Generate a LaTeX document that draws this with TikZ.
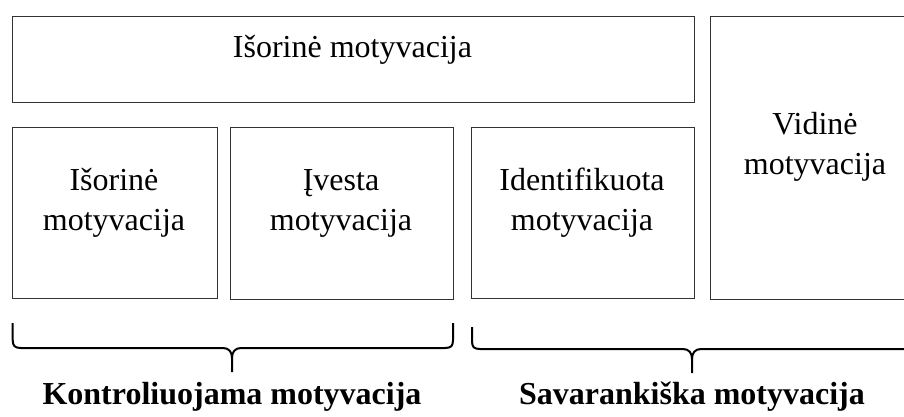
\documentclass[tikz,border=0pt]{standalone}
\usepackage{fontspec}
\setmainfont{Liberation Serif}
\begin{document}
\begin{tikzpicture}[x=1pt,y=-1pt,
  box/.style={draw=black!80, line width=1.1pt, rectangle, inner sep=0pt},
  txt/.style={align=center, font=\fontsize{32}{40}\selectfont, inner sep=0pt},
  lbl/.style={font=\fontsize{32}{38}\selectfont\bfseries, inner sep=0pt},
  brace/.style={draw=black, line width=2pt, line join=round}]
\useasboundingbox (0,0) rectangle (904,416);
% boxes
\node[box, anchor=north west, minimum width=682pt, minimum height=86pt] (top) at (11.5,15.5) {};
\node[box, anchor=north west, minimum width=212pt, minimum height=283pt] (vid) at (709.5,15.5) {};
\node[box, anchor=north west, minimum width=205pt, minimum height=171pt] (b1) at (11.5,127) {};
\node[box, anchor=north west, minimum width=223pt, minimum height=172pt] (b2) at (229.5,127) {};
\node[box, anchor=north west, minimum width=223pt, minimum height=171pt] (b3) at (470.5,127) {};
% texts
\node[txt, anchor=base] (ttop) at (352.5,57) {Išorinė motyvacija};
\node[txt, anchor=base] (t1) at (114,230) {Išorinė\\motyvacija};
\node[txt, anchor=base] (t2) at (341,230) {Įvesta\\motyvacija};
\node[txt, anchor=base] (t3) at (582,230) {Identifikuota\\motyvacija};
\node[txt, anchor=base] (t4) at (815,174) {Vidinė\\motyvacija};
% braces
\coordinate (la) at (12.7,323);
\coordinate (lm) at (232,372);
\coordinate (lb) at (453,323);
\draw[brace] (la) -- (12.7,340) .. controls (12.7,346) and (15,348) .. (21,348)
  -- (223,348) .. controls (229,348) and (232,352) .. (232,358) -- (lm);
\draw[brace] (lb) -- (453,340) .. controls (453,346) and (451,348) .. (445,348)
  -- (241,348) .. controls (235,348) and (232,352) .. (232,358);
\coordinate (ra) at (472,327);
\coordinate (rm) at (692,373);
\coordinate (rb) at (912,327);
\draw[brace] (ra) -- (472,341) .. controls (472,347) and (474,349) .. (480,349)
  -- (683,349) .. controls (689,349) and (692,353) .. (692,359) -- (rm);
\draw[brace] (rb) -- (912,341) .. controls (912,347) and (910,349) .. (904,349)
  -- (701,349) .. controls (695,349) and (692,353) .. (692,359);
\node[lbl, anchor=base] (kl) at (232,404) {Kontroliuojama motyvacija};
\node[lbl, anchor=base] (sl) at (692,404) {Savarankiška motyvacija};
\end{tikzpicture}
\end{document}
